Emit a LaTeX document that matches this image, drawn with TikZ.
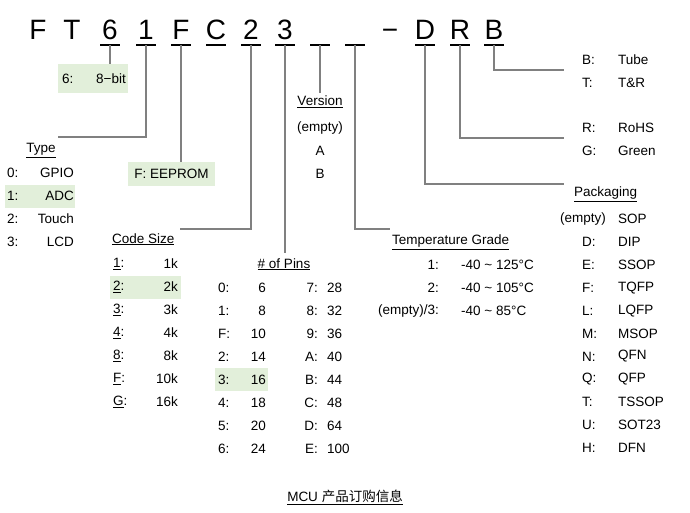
\documentclass[tikz,border=0pt]{standalone}
\usepackage{fontspec}
\setmainfont{Liberation Sans}
\newfontfamily\cjk{Noto Sans CJK SC}
\definecolor{hl}{HTML}{E2EFDA}
\definecolor{ln}{HTML}{808080}
\begin{document}
\begin{tikzpicture}[x=1pt,y=-1pt,
  every node/.style={inner sep=0pt,font=\fontsize{13.5}{15}\selectfont},
  big/.style={font=\fontsize{28}{30}\selectfont,anchor=base},
  conn/.style={draw=ln,line width=1.1pt},
  ul/.style={draw=black,line width=1.6pt},
  ttl/.style={font=\fontsize{13.5}{15}\selectfont\strut}]
\useasboundingbox (0,0) rectangle (690,513);
% header
\foreach \n/\t/\x in {hF/F/38,hT/T/72,h6/6/110,h1/1/146,hF2/F/181,hC/C/216,h2/2/251,h3/3/285,hD/D/425,hR/R/460,hB/B/494}
  \node[big] (\n) at (\x,40) {\t};
\node[big] (hdash) at (390,40) {−};
\foreach \n/\x in {u6/110,u1/146,uF/181,uC/216,u2/251,u3/285,uv/320,ut/355,uD/425,uR/460,uB/494}
  {\coordinate (\n) at (\x,45); \draw[ul] (\x-10,45) -- (\x+10,45);}
% highlight boxes
\fill[hl] (58,64) rectangle (128,93);
\node[anchor=west] (b6a) at (62,79) {6:};
\node[anchor=east] (b6b) at (126,79) {8−bit};
\coordinate (b6) at (110,64);
\fill[hl] (128,162) rectangle (215,186);
\node (bF) at (171.5,174) {F: EEPROM};
\coordinate (bFt) at (181,162);
\fill[hl] (5,185) rectangle (75,208);
\fill[hl] (110,276) rectangle (181,299);
\fill[hl] (215,368) rectangle (268,391);
% Type
\node[ttl] (type) at (41,150) {\underline{Type}};
\foreach \a/\b/\y in {0:/GPIO/173,1:/ADC/196,2:/Touch/219,3:/LCD/242}
  {\node[anchor=west] at (7,\y) {\a}; \node[anchor=east] at (74,\y) {\b};}
% Version
\node[ttl] (ver) at (320,103) {\underline{Version}};
\node at (320,128) {(empty)}; \node at (320,151) {A}; \node at (320,174) {B};
% Code size
\node[ttl,anchor=west] (code) at (112,240) {\underline{Code Size}};
\foreach \a/\b/\y in {1/1k/264,2/2k/287,3/3k/310,4/4k/333,8/8k/356,F/10k/379,G/16k/402}
  {\node[anchor=west] at (113,\y) {\underline{\a}:}; \node[anchor=east] at (178,\y) {\b};}
% Pins
\node[ttl] (pins) at (284,265) {\underline{\# of Pins}};
\foreach \a/\b/\c/\d [count=\i] in {0/6/7/28,1/8/8/32,F/10/9/36,2/14/A/40,3/16/B/44,4/18/C/48,5/20/D/64,6/24/E/100}
  {\pgfmathsetmacro\yy{265+23*\i}
   \node[anchor=west] at (218,\yy) {\a:}; \node[anchor=east] at (266,\yy) {\b};
   \node[anchor=east] at (318,\yy) {\c:}; \node[anchor=west] at (327,\yy) {\d};}
% Temperature
\node[ttl,anchor=west] (temp) at (392,242) {\underline{Temperature Grade}};
\node[anchor=east] at (439,265) {1:}; \node[anchor=west] at (461,265) {-40 \textasciitilde{} 125°C};
\node[anchor=east] at (439,288) {2:}; \node[anchor=west] at (461,288) {-40 \textasciitilde{} 105°C};
\node[anchor=east] at (439,311) {(empty)/3:}; \node[anchor=west] at (461,311) {-40 \textasciitilde{} 85°C};
% B/T, R/G
\node[anchor=west] (bt) at (582,60) {B:}; \node[anchor=west] at (618,60) {Tube};
\node[anchor=west] at (582,83) {T:}; \node[anchor=west] at (618,83) {T\&R};
\node[anchor=west] (rg) at (582,128) {R:}; \node[anchor=west] at (618,128) {RoHS};
\node[anchor=west] at (582,151) {G:}; \node[anchor=west] at (618,151) {Green};
% Packaging
\node[ttl,anchor=west] (pack) at (574,194) {\underline{Packaging}};
\node[anchor=east] at (606,219) {(empty)}; \node[anchor=west] at (618,219) {SOP};
\foreach \a/\b [count=\i] in {D/DIP,E/SSOP,F/TQFP,L/LQFP,M/MSOP,N/QFN,Q/QFP,T/TSSOP,U/SOT23,H/DFN}
  {\pgfmathsetmacro\yy{219+22.9*\i}
   \node[anchor=west] at (582,\yy) {\a:}; \node[anchor=west] at (618,\yy) {\b};}
% connectors
\draw[conn] (u6) -- (b6);
\draw[conn] (u1) |- (58,137) coordinate (eType);
\draw[conn] (uF) -- (bFt);
\draw[conn] (u2) |- (180,229) coordinate (eCode);
\draw[conn] (u3) -- (285,253) coordinate (ePins);
\draw[conn] (uv) -- (320,93) coordinate (eVer);
\draw[conn] (ut) |- (390,229) coordinate (eTemp);
\draw[conn] (uD) |- (564,184) coordinate (ePack);
\draw[conn] (uR) |- (564,138) coordinate (eRG);
\draw[conn] (uB) |- (564,70) coordinate (eBT);
% caption
\node (cap) at (345,497) {\underline{MCU {\cjk 产品订购信息}}};
\end{tikzpicture}
\end{document}
